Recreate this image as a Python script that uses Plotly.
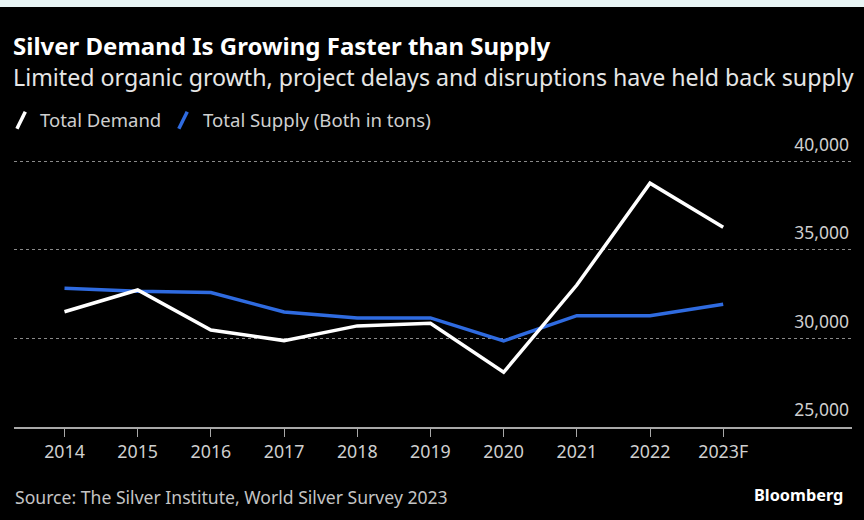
import plotly.graph_objects as go

years = ["2014", "2015", "2016", "2017", "2018", "2019", "2020", "2021", "2022", "2023F"]
total_demand = [31510, 32740, 30480, 29880, 30710, 30860, 28090, 33020, 38770, 36280]
total_supply = [32840, 32660, 32590, 31500, 31160, 31160, 29860, 31290, 31290, 31930]
y_ticks = [25000, 30000, 35000, 40000]
y_tick_labels = ["25,000", "30,000", "35,000", "40,000"]

FONT = "Noto Sans, sans-serif"
BLUE = "#2f6be0"

fig = go.Figure()
fig.add_trace(go.Scatter(x=years, y=total_supply, mode="lines", name="Total Supply",
                         line=dict(color=BLUE, width=3.5), showlegend=False))
fig.add_trace(go.Scatter(x=years, y=total_demand, mode="lines", name="Total Demand",
                         line=dict(color="#ffffff", width=3.5), showlegend=False))

fig.update_layout(
    width=864, height=520,
    paper_bgcolor="#000000", plot_bgcolor="#000000",
    margin=dict(l=14, r=12, t=126, b=93, autoexpand=False),
    font=dict(family=FONT, color="#cccccc", size=16),
    xaxis=dict(
        type="category", range=[-0.69, 10.76], automargin=False,
        showgrid=False, zeroline=False,
        showline=True, linecolor="#a8a8a8", linewidth=2,
        ticks="outside", ticklen=8, tickcolor="#a8a8a8", tickwidth=1,
        tickfont=dict(size=17.8, color="#cfcfcf", family=FONT),
        fixedrange=True,
    ),
    yaxis=dict(
        range=[25000, 42000], side="right", automargin=False,
        tickvals=y_ticks, ticktext=y_tick_labels,
        ticklabelposition="inside", ticklabelshift=-17,
        showgrid=True, gridcolor="#8a8a8a", griddash="dot", gridwidth=1,
        zeroline=False, showline=False, ticks="",
        tickfont=dict(size=17.5, color="#cfcfcf", family=FONT),
        fixedrange=True,
    ),
    shapes=[
        dict(type="rect", xref="paper", yref="paper", x0=-0.05, x1=1.05,
             y0=1.395, y1=1.5, fillcolor="#e8f5f5", line=dict(width=0), layer="above"),
        dict(type="line", xref="paper", yref="paper", x0=0.0035, y0=0.991, x1=0.0135, y1=1.0475,
             line=dict(color="#ffffff", width=3.5)),
        dict(type="line", xref="paper", yref="paper", x0=0.1967, y0=0.991, x1=0.2067, y1=1.0475,
             line=dict(color=BLUE, width=3.5)),
    ],
    annotations=[
        dict(text="<b>Silver Demand Is Growing Faster than Supply</b>", xref="paper", yref="paper",
             x=-0.003, y=1.266, xanchor="left", yanchor="middle", showarrow=False,
             font=dict(size=24, color="#ffffff", family=FONT)),
        dict(text="Limited organic growth, project delays and disruptions have held back supply",
             xref="paper", yref="paper", x=-0.003, y=1.163, xanchor="left", yanchor="middle",
             showarrow=False, font=dict(size=23.2, color="#e6e6e6", family=FONT)),
        dict(text="Total Demand", xref="paper", yref="paper", x=0.029, y=1.021,
             xanchor="left", yanchor="middle", showarrow=False,
             font=dict(size=18.5, color="#cfcfcf", family=FONT)),
        dict(text="Total Supply (Both in tons)", xref="paper", yref="paper", x=0.2235, y=1.021,
             xanchor="left", yanchor="middle", showarrow=False,
             font=dict(size=18.6, color="#cfcfcf", family=FONT)),
        dict(text="Source: The Silver Institute, World Silver Survey 2023", xref="paper", yref="paper",
             x=-0.001, y=-0.2326, xanchor="left", yanchor="middle", showarrow=False,
             font=dict(size=17.6, color="#c4c4c4", family=FONT)),
        dict(text="<b>Bloomberg</b>", xref="paper", yref="paper",
             x=0.992, y=-0.226, xanchor="right", yanchor="middle", showarrow=False,
             font=dict(size=16.3, color="#ffffff", family=FONT)),
    ],
)

fig.write_html("out.html", config={"displayModeBar": False},
               post_script="document.body.style.margin='0';")
